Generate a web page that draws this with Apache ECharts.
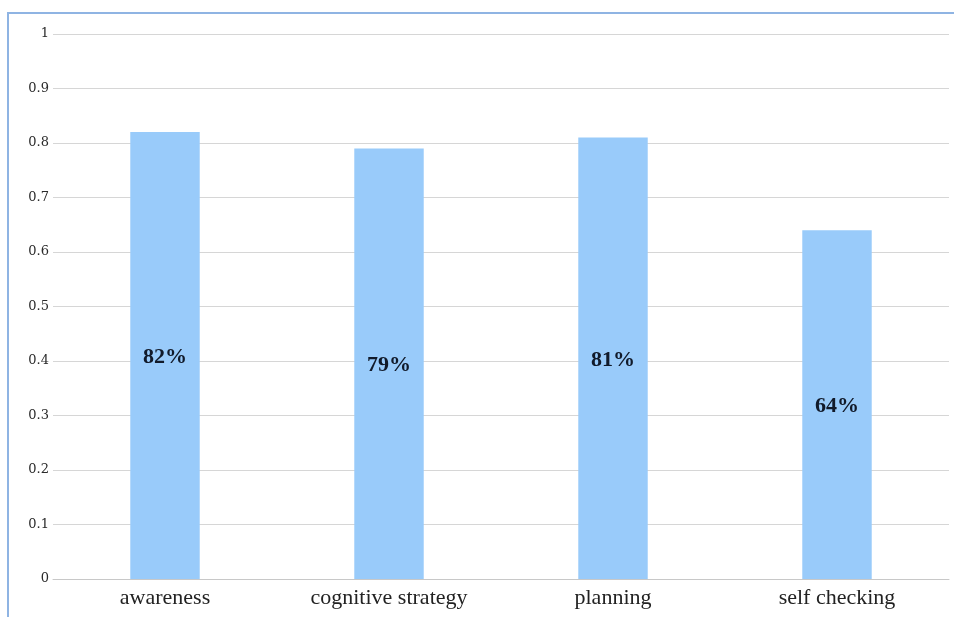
<!DOCTYPE html>
<html>
<head>
<meta charset="utf-8">
<script src="https://cdn.jsdelivr.net/npm/echarts@6/dist/echarts.min.js"></script>
<style>
  html, body { margin: 0; padding: 0; background: #ffffff; }
  #frame { position: absolute; left: 7px; top: 12px; width: 947px; height: 605px;
           border-left: 2px solid #8fb4e3; border-top: 2px solid #8fb4e3; box-sizing: border-box; }
  #chart { position: absolute; left: 0; top: 0; width: 954px; height: 617px; }
</style>
</head>
<body>
<div id="frame"></div>
<div id="chart"></div>
<script>
// Share of each self-regulation component
const categories = ['awareness', 'cognitive strategy', 'planning', 'self checking'];
const shares = [0.82, 0.79, 0.81, 0.64];
const yTicks = { min: 0, max: 1, interval: 0.1 };

const chart = echarts.init(document.getElementById('chart'), null, { renderer: 'canvas' });
chart.setOption({
  animation: false,
  grid: { left: 53, right: 5, top: 34, bottom: 38, containLabel: false },
  xAxis: {
    type: 'category',
    data: categories,
    axisTick: { show: false },
    axisLine: { lineStyle: { color: '#c8c8c8', width: 1 } },
    axisLabel: { color: '#222', fontFamily: 'Liberation Serif', fontSize: 22, margin: 8 }
  },
  yAxis: {
    type: 'value',
    min: yTicks.min, max: yTicks.max, interval: yTicks.interval,
    axisLine: { show: false },
    axisTick: { show: false },
    axisLabel: {
      color: '#2a2a2a', fontFamily: 'DejaVu Serif', fontSize: 13, margin: 4,
      formatter: v => String(Math.round(v * 10) / 10)
    },
    splitLine: { lineStyle: { color: '#d6d6d6', width: 1 } }
  },
  series: [{
    type: 'bar',
    data: shares,
    barWidth: '31%',
    itemStyle: { color: '#99cbfa' },
    label: {
      show: true,
      position: 'inside',
      offset: [0, 2],
      color: '#111a2a',
      fontFamily: 'Liberation Serif',
      fontWeight: 'bold',
      fontSize: 22,
      formatter: p => Math.round(p.value * 100) + '%'
    }
  }]
});
</script>
</body>
</html>
